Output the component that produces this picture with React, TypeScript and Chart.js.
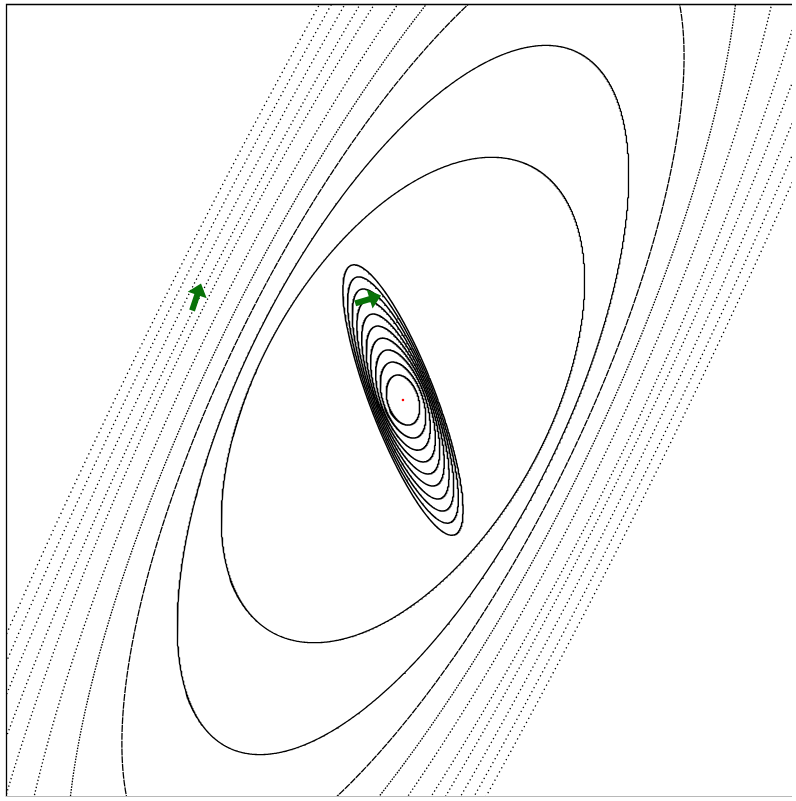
import React, { useEffect, useRef } from "react";
import { Chart, registerables } from "chart.js";

Chart.register(...registerables);

// ---- data (units: plot units, minimum at 0,0) ----
// inner family of contour ellipses: semi-major, semi-minor, tilt (deg from +x)
const innerMajor = [145, 132, 119, 106, 92, 79, 66, 53, 40, 26];
const innerMinor = [33, 31.5, 30, 28.5, 27, 25.5, 24, 22, 19.5, 15.5];
const innerAngle = [111, 111, 111, 111, 111, 111, 111, 110, 110, 108];

// outer family of contour ellipses (first three solid, the rest dotted)
const outerMajor = [268, 391, 524, 649, 775, 900, 1060, 1200, 1320, 1440];
const outerMinor = [145, 160, 176, 191, 206, 221, 229, 240, 250.5, 260];
const outerAngle = [60.5, 63.2, 63.4, 63.3, 63.3, 63.3, 63.3, 63.3, 63.3, 63.3];

// minimum
const minimumX = [0];
const minimumY = [0];

// gradient-step arrows: tail and displacement
const arrowX = [-212, -48];
const arrowY = [90, 97];
const arrowDX = [9, 26];
const arrowDY = [27, 8];

// visible window of the plot
const xRange = [-399, 391];
const yRange = [-399, 398];

function ellipsePoints(a: number, b: number, deg: number, n: number) {
  const r = (deg * Math.PI) / 180;
  const c = Math.cos(r);
  const s = Math.sin(r);
  const pts: { x: number; y: number }[] = [];
  for (let i = 0; i <= n; i++) {
    const t = (2 * Math.PI * i) / n;
    const p = a * Math.cos(t);
    const q = b * Math.sin(t);
    pts.push({ x: p * c - q * s, y: p * s + q * c });
  }
  return pts;
}

const dashes: number[][] = [
  [],
  [],
  [7, 0.8],
  [1.6, 1.2],
  [1.4, 2.2],
  [1.3, 2.6],
  [1.3, 2.8],
  [1.3, 3.0],
  [1.3, 3.2],
  [1.3, 3.4],
];

const framePlugin = {
  id: "frame",
  afterDraw(chart: any) {
    const { ctx, chartArea: ca } = chart;
    ctx.save();
    ctx.strokeStyle = "#000";
    ctx.lineWidth = 1.3;
    ctx.beginPath();
    ctx.moveTo(ca.left + 0.5, ca.bottom);
    ctx.lineTo(ca.left + 0.5, ca.top + 0.5);
    ctx.lineTo(ca.right, ca.top + 0.5);
    ctx.stroke();
    ctx.strokeStyle = "#b8b8b8";
    ctx.lineWidth = 1;
    ctx.beginPath();
    ctx.moveTo(ca.left, ca.bottom - 0.5);
    ctx.lineTo(ca.right, ca.bottom - 0.5);
    ctx.stroke();
    ctx.restore();
  },
};

const arrowPlugin = {
  id: "arrows",
  afterDatasetsDraw(chart: any) {
    const { ctx, scales } = chart;
    const xs = scales.x;
    const ys = scales.y;
    ctx.save();
    ctx.fillStyle = "#087208";
    for (let i = 0; i < arrowX.length; i++) {
      const x0 = xs.getPixelForValue(arrowX[i]);
      const y0 = ys.getPixelForValue(arrowY[i]);
      const x1 = xs.getPixelForValue(arrowX[i] + arrowDX[i]);
      const y1 = ys.getPixelForValue(arrowY[i] + arrowDY[i]);
      const len = Math.hypot(x1 - x0, y1 - y0);
      const dx = (x1 - x0) / len;
      const dy = (y1 - y0) / len;
      const px = -dy;
      const py = dx;
      const headLen = 12;
      const shaft = 3;
      const head = 10;
      const bx = x1 - dx * headLen;
      const by = y1 - dy * headLen;
      ctx.beginPath();
      ctx.moveTo(x0 + px * shaft, y0 + py * shaft);
      ctx.lineTo(bx + px * shaft, by + py * shaft);
      ctx.lineTo(bx + px * head, by + py * head);
      ctx.lineTo(x1, y1);
      ctx.lineTo(bx - px * head, by - py * head);
      ctx.lineTo(bx - px * shaft, by - py * shaft);
      ctx.lineTo(x0 - px * shaft, y0 - py * shaft);
      ctx.closePath();
      ctx.fill();
    }
    ctx.restore();
  },
};

export default function App() {
  const ref = useRef<HTMLCanvasElement | null>(null);

  useEffect(() => {
    if (!ref.current) return;
    const datasets: any[] = [];
    datasets.push({
      label: "minimum",
      data: minimumX.map((x, i) => ({ x, y: minimumY[i] })),
      showLine: false,
      pointRadius: 1.3,
      pointBorderWidth: 0,
      pointBackgroundColor: "#ff0000",
      clip: 0,
    });
    innerMajor.forEach((a, i) => {
      datasets.push({
        label: "inner" + i,
        data: ellipsePoints(a, innerMinor[i], innerAngle[i], 360),
        showLine: true,
        pointRadius: 0,
        borderColor: "#000",
        borderWidth: 1.5,
        tension: 0,
        clip: 0,
      });
    });
    outerMajor.forEach((a, i) => {
      datasets.push({
        label: "outer" + i,
        data: ellipsePoints(a, outerMinor[i], outerAngle[i], 1440),
        showLine: true,
        pointRadius: 0,
        borderColor: "#000",
        borderWidth: i < 3 ? 1.3 : 1.3,
        borderDash: dashes[i],
        tension: 0,
        clip: 0,
      });
    });

    const chart = new Chart(ref.current, {
      type: "scatter",
      data: { datasets },
      options: {
        animation: false,
        responsive: false,
        events: [],
        layout: { padding: { left: 6, top: 4, right: 0, bottom: 0 } },
        plugins: { legend: { display: false }, tooltip: { enabled: false } },
        scales: {
          x: { type: "linear", min: xRange[0], max: xRange[1], display: false },
          y: { type: "linear", min: yRange[0], max: yRange[1], display: false },
        },
      },
      plugins: [framePlugin, arrowPlugin],
    });
    return () => chart.destroy();
  }, []);

  return (
    <div
      style={{
        position: "fixed",
        left: 0,
        top: 0,
        width: 796,
        height: 801,
        background: "#fff",
        overflow: "hidden",
      }}
    >
      <canvas ref={ref} width={796} height={801} style={{ display: "block" }} />
    </div>
  );
}
